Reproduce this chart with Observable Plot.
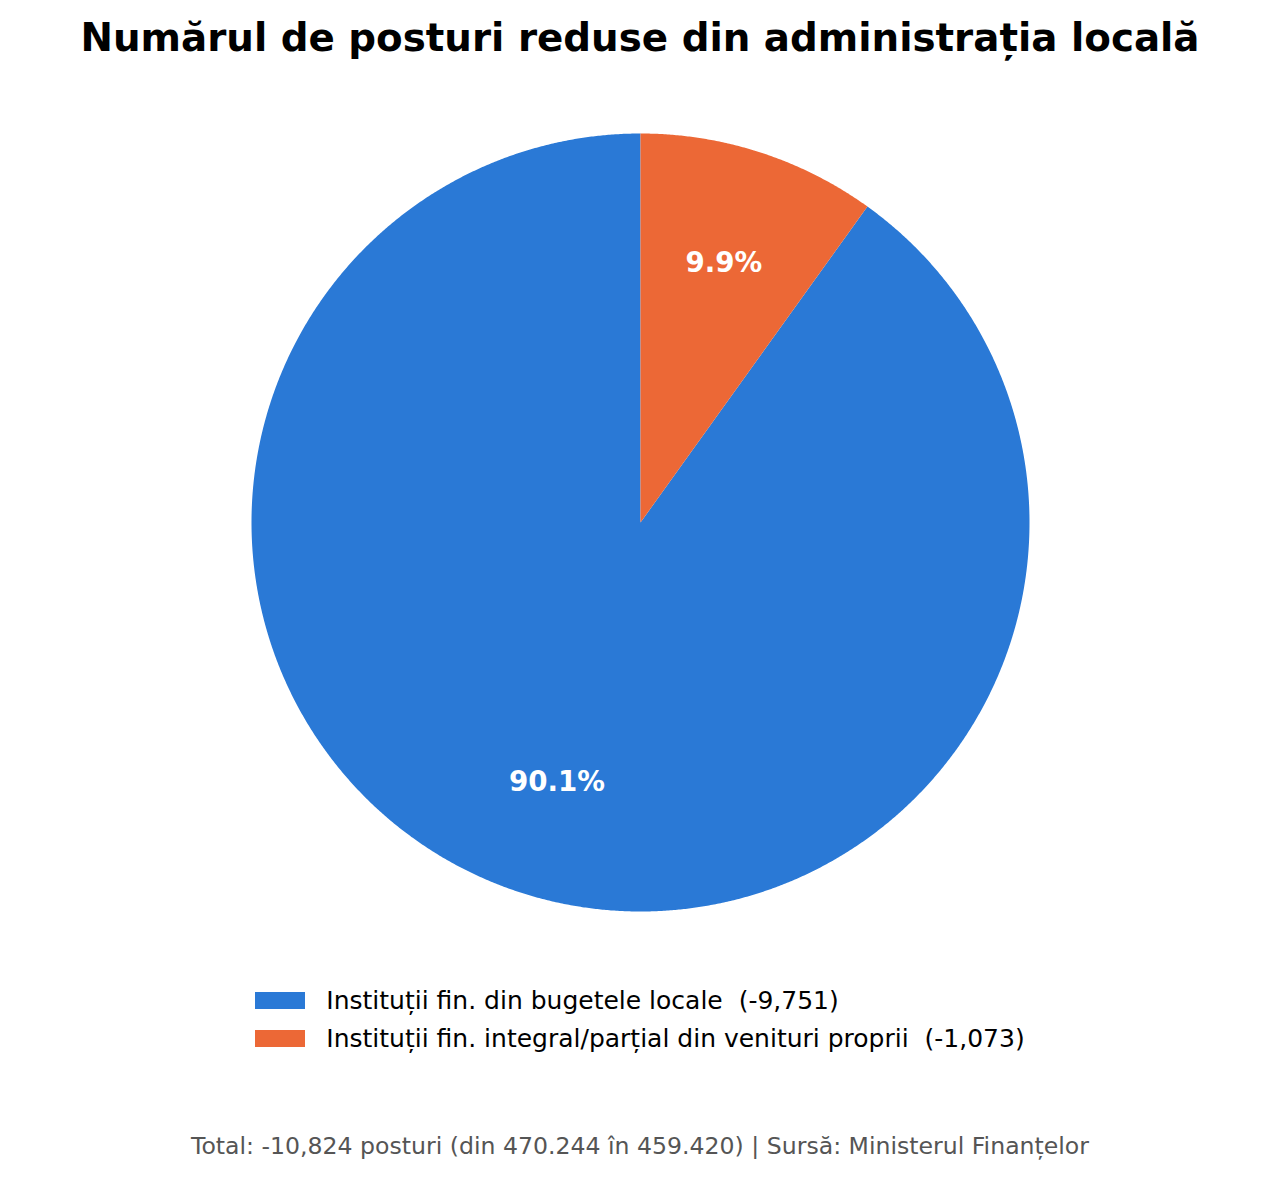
<!DOCTYPE html>
<html>
<head>
<meta charset="utf-8">
<script src="https://cdn.jsdelivr.net/npm/d3@7"></script>
<script src="https://cdn.jsdelivr.net/npm/@observablehq/plot@0.6"></script>
<style>
  html, body { margin: 0; padding: 0; background: #fff; }
  #wrap { position: relative; width: 1280px; height: 1180px; font-family: "DejaVu Sans", sans-serif; }
  #title { position: absolute; left: 0; top: 15px; width: 1280px; text-align: center; font-weight: bold; font-size: 38.8px; line-height: 45px; color: #000; white-space: nowrap; }
  #chart { position: absolute; left: 0; top: 76px; }
  #legend { position: absolute; left: 0; top: 982px; width: 1280px; display: flex; justify-content: center; }
  #legend .inner { display: flex; flex-direction: column; }
  .row { display: flex; align-items: flex-start; height: 37.5px; font-size: 25px; line-height: 37px; color: #000; white-space: pre; }
  .sw { width: 50px; height: 17px; margin-top: 10px; margin-right: 21px; flex: none; }
  #caption { position: absolute; left: 0; top: 1132px; width: 1280px; text-align: center; font-size: 23.6px; color: #555; white-space: nowrap; }
</style>
</head>
<body>
<div id="wrap">
  <div id="title"></div>
  <div id="chart"></div>
  <div id="legend"><div class="inner"></div></div>
  <div id="caption"></div>
</div>
<script>
const titleText = "Numărul de posturi reduse din administrația locală";
const categories = ["Instituții fin. din bugetele locale", "Instituții fin. integral/parțial din venituri proprii"];
const values = [9751, 1073];
const colors = ["#2a79d6", "#ec6836"];
const captionText = "Total: -10,824 posturi (din 470.244 în 459.420) | Sursă: Ministerul Finanțelor";

document.getElementById("title").textContent = titleText;
document.getElementById("caption").textContent = captionText;

const total = d3.sum(values);
const fmt = d3.format(",");

// Pie geometry: start at top, counterclockwise (d3 angles: clockwise from top, so negative direction)
const arcs = d3.pie().sort(null).startAngle(0).endAngle(-2 * Math.PI)(values);

const polyPts = [];
arcs.forEach((a, i) => {
  const cat = categories[i];
  polyPts.push({cat, x: 0, y: 0});
  const n = Math.max(2, Math.ceil(Math.abs(a.endAngle - a.startAngle) / (Math.PI / 720)));
  for (let k = 0; k <= n; k++) {
    const t = a.startAngle + (a.endAngle - a.startAngle) * k / n;
    polyPts.push({cat, x: Math.sin(t), y: Math.cos(t)});
  }
  polyPts.push({cat, x: 0, y: 0});
});

const labelPts = arcs.map((a, i) => {
  const m = (a.startAngle + a.endAngle) / 2;
  return {x: 0.7 * Math.sin(m), y: 0.7 * Math.cos(m), text: (values[i] / total * 100).toFixed(1) + "%"};
});

const W = 1280, H = 884;
const chart = Plot.plot({
  width: W,
  height: H,
  marginLeft: 251,
  marginRight: 251,
  marginTop: 57,
  marginBottom: 49,
  x: {domain: [-1, 1], axis: null},
  y: {domain: [-1, 1], axis: null},
  color: {domain: categories, range: colors},
  style: {fontFamily: "DejaVu Sans", background: "#fff"},
  marks: [
    Plot.line(polyPts, {x: "x", y: "y", z: "cat", fill: "cat", stroke: null, curve: "linear"}),
    Plot.text(labelPts, {x: "x", y: "y", text: "text", fill: "white", fontSize: 27.7, fontWeight: "bold", fontFamily: "DejaVu Sans"})
  ]
});
document.getElementById("chart").appendChild(chart);

const inner = document.querySelector("#legend .inner");
categories.forEach((c, i) => {
  const row = document.createElement("div");
  row.className = "row";
  const sw = document.createElement("div");
  sw.className = "sw";
  sw.style.background = colors[i];
  const tx = document.createElement("span");
  tx.textContent = `${c}  (-${fmt(values[i])})`;
  row.appendChild(sw);
  row.appendChild(tx);
  inner.appendChild(row);
});
</script>
</body>
</html>
